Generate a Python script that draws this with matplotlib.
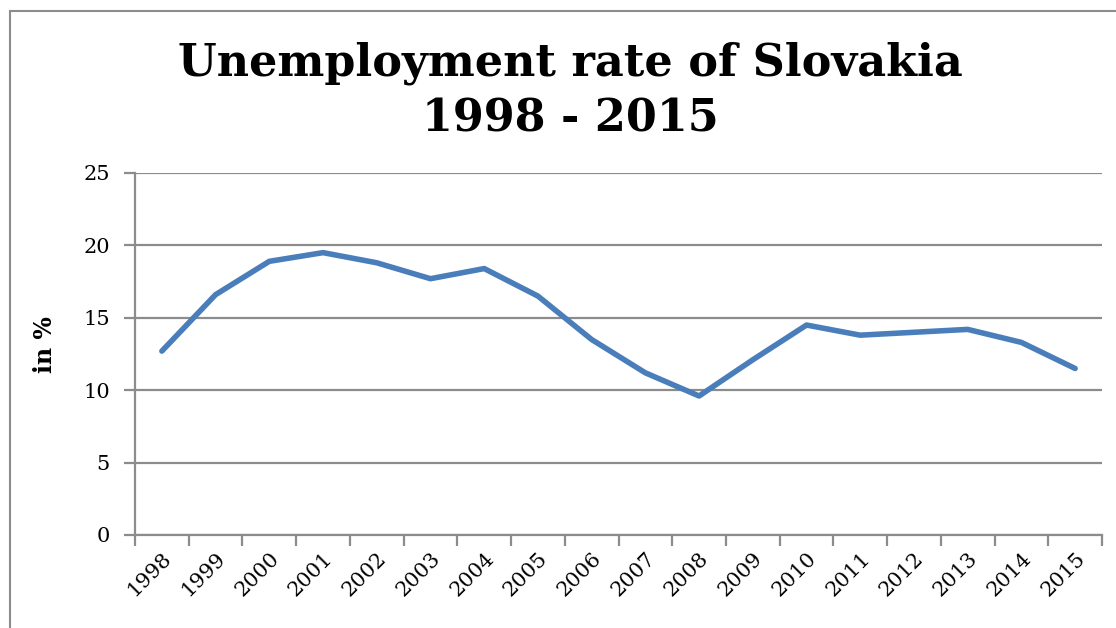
import matplotlib
matplotlib.use("Agg")
import matplotlib.pyplot as plt
from matplotlib.patches import Rectangle

years = ["1998", "1999", "2000", "2001", "2002", "2003", "2004", "2005", "2006",
         "2007", "2008", "2009", "2010", "2011", "2012", "2013", "2014", "2015"]
rate = [12.7, 16.6, 18.9, 19.5, 18.8, 17.7, 18.4, 16.5, 13.5,
        11.2, 9.6, 12.1, 14.5, 13.8, 14.0, 14.2, 13.3, 11.5]
y_ticks = [0, 5, 10, 15, 20, 25]

plt.rcParams['font.family'] = ['DejaVu Serif']
grey = '#8c8c8c'

fig = plt.figure(figsize=(11.16, 6.28), dpi=100)
W, H = 1116, 628
ax = fig.add_axes([135 / W, 1 - 535 / H, (1102 - 135) / W, (535 - 173) / H])

# outer chart border (cropped on right/bottom)
fig.patches.append(Rectangle((10 / W, -0.1), 1.2, 1 - 11 / H + 0.1, transform=fig.transFigure,
                             fill=False, edgecolor=grey, linewidth=1.5))

x = list(range(len(years)))
ax.plot(x, rate, color='#4a7ebb', linewidth=4, solid_capstyle='round',
        solid_joinstyle='round', zorder=3)

ax.set_xlim(-0.5, len(years) - 0.5)
ax.set_ylim(0, 25)
ax.set_yticks(y_ticks)
ax.set_yticklabels([str(v) for v in y_ticks], fontsize=15)
ax.yaxis.grid(True, color=grey, linewidth=1.6)
ax.set_axisbelow(True)

ax.set_xticks([i - 0.5 for i in range(len(years) + 1)])
ax.set_xticklabels([])
ax.set_xticks(x, minor=True)
ax.set_xticklabels(years, minor=True, rotation=45, ha='right', va='top',
                   rotation_mode='anchor', fontsize=15)
ax.tick_params(axis='x', which='minor', length=0, pad=10)
ax.tick_params(axis='x', which='major', length=8, width=1.6, color=grey, direction='out')
ax.tick_params(axis='y', length=8, width=1.6, color=grey, direction='out', pad=10)

for s in ['top', 'right']:
    ax.spines[s].set_visible(False)
for s in ['left', 'bottom']:
    ax.spines[s].set_color(grey)
    ax.spines[s].set_linewidth(1.6)

fig.text(570 / W, 1 - 91 / H, "Unemployment rate of Slovakia\n1998 - 2015",
         ha='center', va='center', fontsize=32, fontweight='bold', linespacing=1.38)
fig.text(45 / W, 1 - 345 / H, "in %", rotation=90, ha='center', va='center',
         fontsize=17, fontweight='bold')

fig.savefig("out.png", dpi=100)
